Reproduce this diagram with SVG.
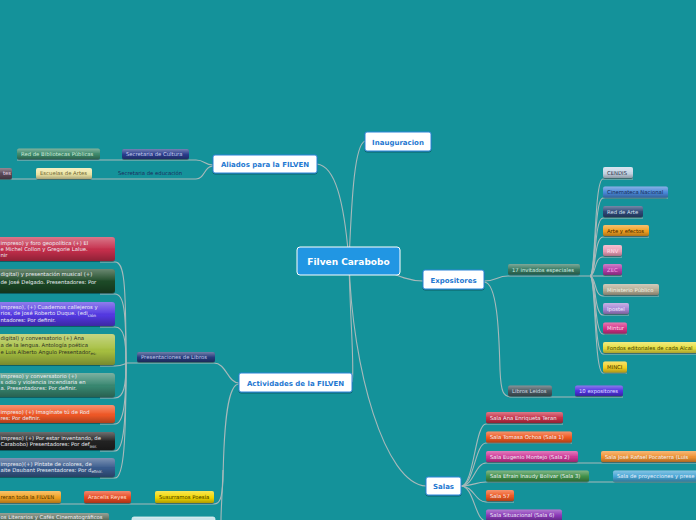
<svg xmlns="http://www.w3.org/2000/svg" width="696" height="520" viewBox="0 0 696 520">
<defs>
<linearGradient id="gl" x1="0" y1="0" x2="0" y2="1">
<stop offset="0" stop-color="#fff" stop-opacity="0.35"/>
<stop offset="0.45" stop-color="#fff" stop-opacity="0.06"/>
<stop offset="0.55" stop-color="#000" stop-opacity="0"/>
<stop offset="1" stop-color="#000" stop-opacity="0.28"/>
</linearGradient>
<filter id="ds" x="-10%" y="-20%" width="120%" height="160%">
<feDropShadow dx="0" dy="1" stdDeviation="0.6" flood-color="#000" flood-opacity="0.35"/>
</filter>
</defs>
<style>
.c{fill:none;stroke:#a8b9ba;stroke-width:1.1}
.b{filter:url(#ds)}
.g{fill:url(#gl)}
.t{font-family:"DejaVu Sans","Liberation Sans",sans-serif;font-size:5.3px}
.s{font-size:4px}
.l{fill:#eef0f6}
.d{fill:#2e2e22}
.mt{font-family:"DejaVu Sans","Liberation Sans",sans-serif;font-weight:bold;font-size:7px;fill:#1f78d1;text-anchor:middle}
.mb{fill:#fff;stroke:#2a84d8;stroke-width:1}
</style>
<rect width="696" height="520" fill="#14929a"/>

<g id="connectors">
<path class="c" d="M349,261 C352,190 355,145 365,141"/>
<path class="c" d="M317,164 C335,166 344,200 349,261"/>
<path class="c" d="M380,268 C400,277 410,281 423,281"/>
<path class="c" d="M349,261 C350,320 355,372 352,382"/>
<path class="c" d="M349,261 C352,370 385,484 426,486"/>
<path class="c" d="M213,165 C204,165 205,160 196,160 H17"/>
<path class="c" d="M213,166 C204,166 205,179 196,179 H0"/>
<path class="c" d="M239,383 C228,383 226,363 214,363 H127"/>
<path class="c" d="M239,384 C228,384 224,420 223,480 C222,498 220,504 214,504 H0"/>
<path class="c" d="M223,470 C222,500 221,510 221,520"/>
<path class="c" d="M100,262 H115 C124,262 126,280 126,363"/>
<path class="c" d="M100,294 H115 C124,294 126,310 126,363"/>
<path class="c" d="M100,327 H115 C124,327 126,340 126,363"/>
<path class="c" d="M100,366 H115 C122,366 124,364 127,363"/>
<path class="c" d="M100,398 H115 C124,398 126,385 126,363"/>
<path class="c" d="M100,424 H115 C124,424 126,400 126,363"/>
<path class="c" d="M100,451 H115 C124,451 126,420 126,363"/>
<path class="c" d="M100,478 H115 C124,478 126,440 126,363"/>
<path class="c" d="M484,281 C496,281 497,276 508,276 H592"/>
<path class="c" d="M590,276 C596,276 594,179 603,179 H633"/>
<path class="c" d="M590,276 C596,276 594,198 603,198 H668"/>
<path class="c" d="M590,276 C596,276 594,218 603,218 H643"/>
<path class="c" d="M590,276 C596,276 594,237 603,237 H649"/>
<path class="c" d="M590,276 C596,276 594,257 603,257 H622"/>
<path class="c" d="M590,276 C596,276 596,276 603,276 H622"/>
<path class="c" d="M590,276 C596,276 594,296 603,296 H659"/>
<path class="c" d="M590,276 C596,276 594,315 603,315 H629"/>
<path class="c" d="M590,276 C596,276 594,334 603,334 H627"/>
<path class="c" d="M590,276 C596,276 594,354 603,354 H696"/>
<path class="c" d="M590,276 C596,276 594,373 603,373 H627"/>
<path class="c" d="M484,282 C497,282 499,330 500,370 C501,392 503,397 512,397 H623"/>
<path class="c" d="M461,486 C474,486 475,424 486,424 H563"/>
<path class="c" d="M461,486 C474,486 475,443 486,443 H572"/>
<path class="c" d="M461,486 C474,486 475,463 486,463 H696"/>
<path class="c" d="M461,486 C474,486 475,482 486,482 H696"/>
<path class="c" d="M461,486 C474,486 475,502 486,502 H514"/>
<path class="c" d="M461,486 C474,486 475,521 486,521 H562"/>
</g>

<g id="central">
<rect x="297" y="247" width="103" height="28" rx="3" fill="#2196e3" stroke="#fff" stroke-width="1"/>
<text x="348.5" y="264.5" text-anchor="middle" font-family="DejaVu Sans, sans-serif" font-weight="bold" font-size="9" fill="#fff">Filven Carabobo</text>
</g>

<g id="inauguracion"><rect class="mb b" x="365" y="132" width="66" height="19" rx="2"/><text class="mt" x="398" y="144.5">Inauguracion</text></g>
<g id="aliados"><rect class="mb b" x="213" y="155" width="104" height="18" rx="2"/><text class="mt" x="265" y="166.5">Aliados para la FILVEN</text></g>
<g id="expositores"><rect class="mb b" x="423" y="270" width="61" height="19" rx="2"/><text class="mt" x="453.5" y="282.5">Expositores</text></g>
<g id="actividades"><rect class="mb b" x="239" y="373" width="113" height="19" rx="2"/><text class="mt" x="295.5" y="385.5">Actividades de la FILVEN</text></g>
<g id="salas"><rect class="mb b" x="426" y="477" width="35" height="18" rx="2"/><text class="mt" x="443.5" y="488.5">Salas</text></g>

<g id="sec-cultura"><rect class="b" x="122" y="149" width="67" height="10" rx="2" fill="#2b3d8c"/><rect class="g" x="122" y="149" width="67" height="10" rx="2"/><text class="t" x="126" y="156" fill="#c9d0ee">Secretaria de Cultura</text></g>
<g id="red-bibliotecas"><rect class="b" x="17" y="148.5" width="83" height="10.5" rx="2" fill="#3e8a6c"/><rect class="g" x="17" y="148.5" width="83" height="10.5" rx="2"/><text class="t" x="21" y="155.7" fill="#d2ecdc">Red de Bibliotecas Públicas</text></g>
<g id="sec-educacion"><text class="t" x="118" y="175.3" fill="#1d2b5c">Secretaria de educación</text></g>
<g id="escuelas-artes"><rect class="b" x="36" y="168" width="56" height="11" rx="2" fill="#ede6a6"/><rect class="g" x="36" y="168" width="56" height="11" rx="2"/><text class="t" x="40" y="175.4" fill="#6e6432">Escuelas de Artes</text></g>
<g id="artes-cut"><rect class="b" x="-10" y="168" width="22" height="11" rx="2" fill="#5a4858"/><rect class="g" x="-10" y="168" width="22" height="11" rx="2"/><text class="t" x="11" y="175.4" text-anchor="end" fill="#e6d6e4">tes</text></g>

<g id="presentaciones"><rect class="b" x="137" y="352" width="78" height="10" rx="2" fill="#273a7c"/><rect class="g" x="137" y="352" width="78" height="10" rx="2"/><text class="t" x="141" y="359" fill="#c4cbea">Presentaciones de Libros</text></g>

<g id="libro1"><rect class="b" x="-5" y="237" width="120" height="24" rx="3" fill="#c52e4c"/><rect class="g" x="-5" y="237" width="120" height="24" rx="3"/>
<text class="t l" x="0.5" y="245.3">impreso) y foro geopolítica (+) El</text>
<text class="t l" x="0.5" y="251">e Michel Collon y Gregorie Lalue.</text>
<text class="t l" x="0.5" y="257">nir</text></g>
<g id="libro2"><rect class="b" x="-5" y="269" width="120" height="24" rx="3" fill="#1f4a28"/><rect class="g" x="-5" y="269" width="120" height="24" rx="3"/>
<text class="t l" x="0.5" y="276">digital) y presentación musical (+)</text>
<text class="t l" x="0.5" y="283.5">de José Delgado. Presentadores: Por</text></g>
<g id="libro3"><rect class="b" x="-5" y="302" width="120" height="24" rx="3" fill="#5238e2"/><rect class="g" x="-5" y="302" width="120" height="24" rx="3"/>
<text class="t l" x="0.5" y="309.3">impreso), (+) Cuadernos callejeros y</text>
<text class="t l" x="0.5" y="315.3">rios, de José Roberto Duque. (edi<tspan class="s" dy="1.3">ción</tspan></text>
<text class="t l" x="0.5" y="322">ntadores: Por definir.</text></g>
<g id="libro4"><rect class="b" x="-5" y="334" width="120" height="31" rx="3" fill="#a6bf40"/><rect class="g" x="-5" y="334" width="120" height="31" rx="3"/>
<text class="t d" x="0.5" y="340">digital) y conversatorio  (+) Ana</text>
<text class="t d" x="0.5" y="347.3">a de la lengua. Antología poética</text>
<text class="t d" x="0.5" y="353.8">e Luis Alberto Angulo Presentador<tspan class="s" dy="1.3">es:</tspan></text></g>
<g id="libro5"><rect class="b" x="-5" y="373" width="120" height="24" rx="3" fill="#38876f"/><rect class="g" x="-5" y="373" width="120" height="24" rx="3"/>
<text class="t l" x="0.5" y="377.5">impreso) y conversatorio (+)</text>
<text class="t l" x="0.5" y="384">s odio y violencia incendiaria en</text>
<text class="t l" x="0.5" y="390">a. Presentadores: Por definir.</text></g>
<g id="libro6"><rect class="b" x="-5" y="405" width="120" height="18" rx="3" fill="#f05826"/><rect class="g" x="-5" y="405" width="120" height="18" rx="3"/>
<text class="t l" x="0.5" y="413.5">impreso) (+) Imagínate tú de Rod</text>
<text class="t l" x="0.5" y="419.7">res: Por definir.</text></g>
<g id="libro7"><rect class="b" x="-5" y="432" width="120" height="18" rx="3" fill="#222"/><rect class="g" x="-5" y="432" width="120" height="18" rx="3"/>
<text class="t l" x="0.5" y="440.3">impreso) (+) Por estar inventando, de</text>
<text class="t l" x="0.5" y="446.3">Carabobo) Presentadores: Por def<tspan class="s" dy="1.2">inir.</tspan></text></g>
<g id="libro8"><rect class="b" x="-5" y="458" width="120" height="19" rx="3" fill="#385a8c"/><rect class="g" x="-5" y="458" width="120" height="19" rx="3"/>
<text class="t l" x="0.5" y="466">impreso)(+) Píntate de colores, de</text>
<text class="t l" x="0.5" y="472">aite Daubant Presentadores: Por d<tspan class="s" dy="1.2">efinir.</tspan></text></g>

<g id="susurramos"><rect class="b" x="155" y="491" width="59" height="12" rx="2" fill="#f2d800"/><rect class="g" x="155" y="491" width="59" height="12" rx="2"/><text class="t" x="159" y="499" fill="#3e3200">Susurramos Poesía</text></g>
<g id="aracelis"><rect class="b" x="84" y="491" width="47" height="12" rx="2" fill="#e84a22"/><rect class="g" x="84" y="491" width="47" height="12" rx="2"/><text class="t" x="88" y="499" fill="#ffe6dc">Aracelis Reyes</text></g>
<g id="recorreran"><rect class="b" x="-5" y="491" width="66" height="12" rx="2" fill="#f2a224"/><rect class="g" x="-5" y="491" width="66" height="12" rx="2"/><text class="t" x="0.5" y="499" fill="#4a3000">reran toda la FILVEN</text></g>
<g id="literarios"><rect class="b" x="-5" y="513" width="114" height="12" rx="2" fill="#5f6f60"/><rect class="g" x="-5" y="513" width="114" height="12" rx="2"/><text class="t l" x="0.5" y="519" font-size="4.8">os Literarios y Cafés Cinematográficos</text></g>
<g id="bottom-light"><rect x="132" y="517" width="83" height="10" rx="2" fill="#c8e4ec" stroke="#e2f2f4" stroke-width="0.8"/></g>

<g id="invitados"><rect class="b" x="508" y="264" width="72" height="10.5" rx="2" fill="#387a62"/><rect class="g" x="508" y="264" width="72" height="10.5" rx="2"/><text class="t" x="512" y="271.5" fill="#d4eee4">17 invitados especiales</text></g>
<g id="cendis"><rect class="b" x="603" y="167" width="30" height="11" rx="2" fill="#c6d6e6"/><rect class="g" x="603" y="167" width="30" height="11" rx="2"/><text class="t" x="607" y="174.6" fill="#2c3448">CENDIS</text></g>
<g id="cinemateca"><rect class="b" x="603" y="186.5" width="65" height="11" rx="2" fill="#4a88d8"/><rect class="g" x="603" y="186.5" width="65" height="11" rx="2"/><text class="t" x="607" y="194" fill="#1a2850">Cinemateca Nacional</text></g>
<g id="red-arte"><rect class="b" x="603" y="206" width="40" height="11" rx="2" fill="#2e4878"/><rect class="g" x="603" y="206" width="40" height="11" rx="2"/><text class="t" x="607" y="213.5" fill="#dbe2f2">Red de Arte</text></g>
<g id="arte-efectos"><rect class="b" x="603" y="225" width="46" height="11" rx="2" fill="#f2a020"/><rect class="g" x="603" y="225" width="46" height="11" rx="2"/><text class="t" x="607" y="232.5" fill="#3e2400">Arte y efectos</text></g>
<g id="rnv"><rect class="b" x="603" y="245" width="19" height="11" rx="2" fill="#ec9fb8"/><rect class="g" x="603" y="245" width="19" height="11" rx="2"/><text class="t" x="607" y="252.5" fill="#fde4ee">RNV</text></g>
<g id="zec"><rect class="b" x="603" y="264" width="19" height="11" rx="2" fill="#b23ea8"/><rect class="g" x="603" y="264" width="19" height="11" rx="2"/><text class="t" x="607" y="271.5" fill="#f4a8e6">ZEC</text></g>
<g id="ministerio"><rect class="b" x="603" y="284" width="56" height="11" rx="2" fill="#b6ae96"/><rect class="g" x="603" y="284" width="56" height="11" rx="2"/><text class="t" x="607" y="291.5" fill="#f2f0e2">Ministerio Público</text></g>
<g id="ipostel"><rect class="b" x="603" y="303" width="26" height="11" rx="2" fill="#a888d6"/><rect class="g" x="603" y="303" width="26" height="11" rx="2"/><text class="t" x="607" y="310.5" fill="#f4ecff">Ipostel</text></g>
<g id="mintur"><rect class="b" x="603" y="322.5" width="24" height="11" rx="2" fill="#d63088"/><rect class="g" x="603" y="322.5" width="24" height="11" rx="2"/><text class="t" x="607" y="330" fill="#ffe2f0">Mintur</text></g>
<g id="fondos"><rect class="b" x="603" y="342" width="100" height="11" rx="2" fill="#e8e040"/><rect class="g" x="603" y="342" width="100" height="11" rx="2"/><text class="t" x="607" y="349.5" fill="#3e3c00">Fondos editoriales de cada Alcal</text></g>
<g id="minci"><rect class="b" x="603" y="361.5" width="24" height="11" rx="2" fill="#f2d020"/><rect class="g" x="603" y="361.5" width="24" height="11" rx="2"/><text class="t" x="607" y="369" fill="#3e3000">MINCI</text></g>
<g id="libros-leidos"><rect class="b" x="508" y="385.5" width="44" height="10.5" rx="2" fill="#4a5a62"/><rect class="g" x="508" y="385.5" width="44" height="10.5" rx="2"/><text class="t" x="512" y="393" fill="#d2dae2">Libros Leidos</text></g>
<g id="diez-expositores"><rect class="b" x="575" y="385.5" width="48" height="10.5" rx="2" fill="#5030e0"/><rect class="g" x="575" y="385.5" width="48" height="10.5" rx="2"/><text class="t" x="579" y="393" fill="#e2e2ff">10 expositores</text></g>

<g id="sala-ana"><rect class="b" x="486" y="412" width="77" height="11" rx="2" fill="#c83048"/><rect class="g" x="486" y="412" width="77" height="11" rx="2"/><text class="t l" x="490" y="419.5">Sala Ana Enriqueta Teran</text></g>
<g id="sala-tomasa"><rect class="b" x="486" y="431.5" width="86" height="11" rx="2" fill="#f05a22"/><rect class="g" x="486" y="431.5" width="86" height="11" rx="2"/><text class="t l" x="490" y="439">Sala Tomasa Ochoa (Sala 1)</text></g>
<g id="sala-eugenio"><rect class="b" x="486" y="451" width="92" height="11" rx="2" fill="#d03898"/><rect class="g" x="486" y="451" width="92" height="11" rx="2"/><text class="t l" x="490" y="458.5">Sala Eugenio Montejo (Sala 2)</text></g>
<g id="sala-pocaterra"><rect class="b" x="601" y="451" width="100" height="11" rx="2" fill="#f09232"/><rect class="g" x="601" y="451" width="100" height="11" rx="2"/><text class="t l" x="605" y="458.5">Sala José Rafael Pocaterra (Luis</text></g>
<g id="sala-efrain"><rect class="b" x="486" y="470.5" width="103" height="11" rx="2" fill="#3f904a"/><rect class="g" x="486" y="470.5" width="103" height="11" rx="2"/><text class="t l" x="490" y="478">Sala Efrain Inaudy Bolivar (Sala 3)</text></g>
<g id="sala-proyecciones"><rect class="b" x="613" y="470.5" width="90" height="11" rx="2" fill="#46a6d6"/><rect class="g" x="613" y="470.5" width="90" height="11" rx="2"/><text class="t l" x="617" y="478">Sala de proyecciones y prese</text></g>
<g id="sala-57"><rect class="b" x="486" y="490" width="28" height="11" rx="2" fill="#f05a22"/><rect class="g" x="486" y="490" width="28" height="11" rx="2"/><text class="t l" x="490" y="497.5">Sala 57</text></g>
<g id="sala-situacional"><rect class="b" x="486" y="509.5" width="76" height="11" rx="2" fill="#8a38b8"/><rect class="g" x="486" y="509.5" width="76" height="11" rx="2"/><text class="t l" x="490" y="517">Sala Situacional (Sala 6)</text></g>
</svg>
